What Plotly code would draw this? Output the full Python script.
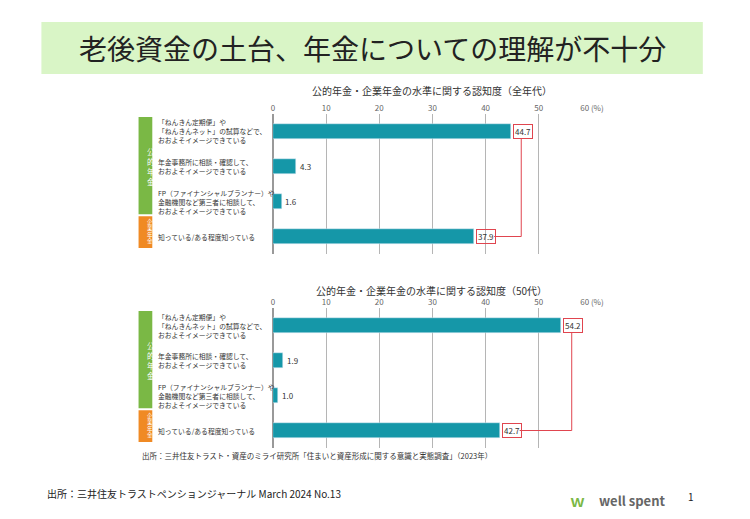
import plotly.graph_objects as go

W, H = 750, 519

categories = [
    "「ねんきん定期便」や<br>「ねんきんネット」の試算などで、<br>おおよそイメージできている",
    "年金事務所に相談・確認して、<br>おおよそイメージできている",
    "FP（ファイナンシャルプランナー）や<br>金融機関など第三者に相談して、<br>おおよそイメージできている",
    "知っている/ある程度知っている",
]
values_all = [44.7, 4.3, 1.6, 37.9]
values_50s = [54.2, 1.9, 1.0, 42.7]
tick_vals = [0, 10, 20, 30, 40, 50, 60]
tick_text = ["0", "10", "20", "30", "40", "50", "60 (%)"]

FONT = "Noto Sans CJK JP"
TEAL = "#1597a8"
RED = "#e0454f"
OFF = 8  # page body margin


def px_x(p):
    return (p - OFF) / W


def px_y(p):
    return 1 - (p - OFF) / H


def text(x, y, t, size, color="#333", **kw):
    d = dict(x=px_x(x), y=px_y(y), xref="paper", yref="paper", text=t,
             showarrow=False, yanchor="middle",
             font=dict(size=size, color=color, family=FONT))
    d.update(kw)
    return d


fig = go.Figure()

# values, title, title y, plot top/bottom (px), axis suffix
panels = [
    (values_all, "公的年金・企業年金の水準に関する認知度（全年代）", 90, (114, 254), ""),
    (values_50s, "公的年金・企業年金の水準に関する認知度（50代）", 290, (308, 448), "2"),
]

shapes = []
annotations = []

for vals, title, ty, (top, bot), s in panels:
    ypos = list(range(len(vals)))
    fig.add_trace(go.Bar(
        x=vals, y=ypos, orientation="h", marker_color=TEAL, width=0.42,
        xaxis="x" + s, yaxis="y" + s, showlegend=False, hoverinfo="skip",
    ))
    fig.layout["xaxis" + s] = dict(
        domain=[px_x(276), px_x(601)], range=[0, 60], side="top",
        anchor="y" + s, tickvals=tick_vals, ticktext=tick_text,
        showgrid=True, gridcolor="#b5b5b5", gridwidth=1, zeroline=True,
        zerolinecolor="#999", tickfont=dict(size=8, color="#666", family=FONT),
        ticks="", showline=False, layer="below traces",
    )
    fig.layout["yaxis" + s] = dict(
        domain=[px_y(bot), px_y(top)], range=[3.5, -0.5], anchor="x" + s,
        showticklabels=False, showgrid=False, zeroline=False,
    )
    annotations.append(text(438, ty, title, 10))
    for i, c in enumerate(categories):
        annotations.append(dict(
            x=px_x(157), xanchor="left", xref="paper", y=i, yref="y" + s,
            text=c, showarrow=False, align="left",
            font=dict(size=6.8, color="#333", family=FONT),
        ))
    gtop, gbot = top + 3, bot - 6
    gstep = (gbot - gtop) / 4
    shapes.append(dict(type="rect", xref="paper", yref="paper",
                       x0=px_x(139), x1=px_x(153), y0=px_y(gtop + 3 * gstep - 1),
                       y1=px_y(gtop), fillcolor="#7ab845", line_width=0))
    shapes.append(dict(type="rect", xref="paper", yref="paper",
                       x0=px_x(139), x1=px_x(153), y0=px_y(gbot),
                       y1=px_y(gtop + 3 * gstep + 1), fillcolor="#f08a24", line_width=0))
    for k, ch in enumerate("公的年金"):
        annotations.append(text(146, gtop + 1.5 * gstep + (k - 1.5) * 10, ch, 7.5, "white"))
    for k, ch in enumerate("企業年金"):
        annotations.append(text(146, gtop + 3.5 * gstep + (k - 1.5) * 6.5, ch, 5.5, "white"))
    for i, v in enumerate(vals):
        boxed = i in (0, 3)
        annotations.append(dict(
            x=v, y=i, xref="x" + s, yref="y" + s, text=f"{v:.1f}",
            xanchor="left", xshift=2, showarrow=False,
            font=dict(size=8, color="#333", family=FONT),
            bordercolor=RED if boxed else "rgba(0,0,0,0)", borderwidth=1, borderpad=1,
        ))
    cx = vals[0] + 2.0
    shapes.append(dict(type="line", xref="x" + s, yref="y" + s,
                       x0=cx, x1=cx, y0=0.2, y1=3, line=dict(color=RED, width=1)))
    shapes.append(dict(type="line", xref="x" + s, yref="y" + s,
                       x0=cx, x1=vals[3] + 3.7, y0=3, y1=3, line=dict(color=RED, width=1)))

shapes.append(dict(type="rect", xref="paper", yref="paper", x0=px_x(40), x1=px_x(714),
                   y0=px_y(74), y1=px_y(22), fillcolor="#d9f5c6", line_width=0))
annotations.append(text(377, 48, "老後資金の土台、年金についての理解が不十分", 28, "#222"))
annotations.append(text(140, 455, "出所：三井住友トラスト・資産のミライ研究所「住まいと資産形成に関する意識と実態調査」（2023年）",
                        7.5, xanchor="left"))
annotations.append(text(44, 493, "出所：三井住友トラストペンションジャーナル March 2024 No.13",
                        10, "#222", xanchor="left"))
annotations.append(text(606, 500, "<b>well spent</b>", 13, "#666", xanchor="left"))
annotations.append(text(596, 500, "<b>ｗ</b>", 15, "#7ab845"))
annotations.append(text(707, 496, "1", 10, "#222"))

fig.update_layout(
    width=W, height=H, margin=dict(l=0, r=0, t=0, b=0),
    paper_bgcolor="white", plot_bgcolor="white",
    shapes=shapes, annotations=annotations, bargap=0,
    font=dict(family=FONT),
)

fig.write_html("out.html")
